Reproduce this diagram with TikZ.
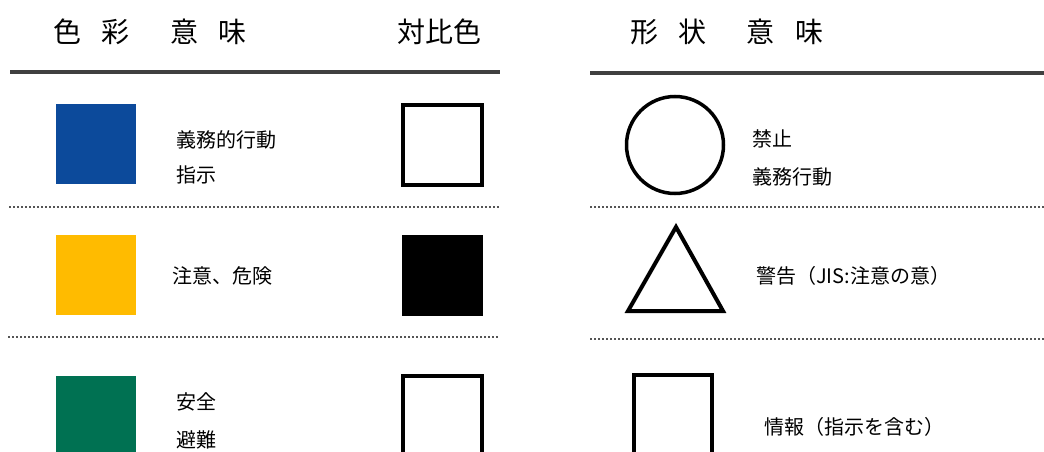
\documentclass[tikz,border=0pt]{standalone}
\usepackage{fontspec}
\setmainfont{Noto Sans CJK JP}
\definecolor{rulegray}{HTML}{404040}
\definecolor{dotgray}{HTML}{555555}
\definecolor{sblue}{HTML}{0C4A9B}
\definecolor{syellow}{HTML}{FFBB00}
\definecolor{sgreen}{HTML}{007152}
\begin{document}
\begin{tikzpicture}[x=1pt,y=-1pt,
  hdr/.style={anchor=west, inner sep=0pt, font=\fontsize{28}{32}\selectfont},
  lbl/.style={anchor=west, inner sep=0pt, font=\fontsize{20}{24}\selectfont},
  rulethick/.style={line width=3.5pt, draw=rulegray},
  dotrule/.style={line width=2pt, draw=dotgray, dash pattern=on 2pt off 2pt},
  swatch/.style={inner sep=0pt, minimum width=80pt, minimum height=80pt},
  outlinebox/.style={draw=black, line width=4pt, inner sep=0pt, fill=white}]
\clip (0,0) rectangle (1044,452);
\fill[white] (0,0) rectangle (1044,452);
% headers
\node[hdr] (hcolor) at (53,32) {色\hspace{20pt}彩\hspace{41pt}意\hspace{20pt}味};
\node[hdr] (hcontrast) at (397,32) {対比色};
\node[hdr] (hshape) at (630,32) {形\hspace{20pt}状\hspace{40pt}意\hspace{21pt}味};
% rules
\draw[rulethick] (10,72) -- (500,72);
\draw[rulethick] (590,73) -- (1044,73);
\draw[dotrule] (9,207) -- (500,207);
\draw[dotrule] (8,337) -- (498,337);
\draw[dotrule] (590,207) -- (1044,207);
\draw[dotrule] (590,339) -- (1044,339);
% row 1
\node[swatch, fill=sblue] (blue) at (96,144) {};
\node[lbl] (t1a) at (176,140) {義務的行動};
\node[lbl] (t1b) at (176,175) {指示};
\node[outlinebox, minimum width=79pt, minimum height=80pt] (c1) at (442.5,145) {};
% row 2
\node[swatch, fill=syellow] (yellow) at (96,275) {};
\node[lbl] (t2) at (172,276) {注意、危険};
\node[swatch, fill=black, minimum width=81pt, minimum height=81pt] (c2) at (442.5,275.5) {};
% row 3
\node[swatch, fill=sgreen, minimum height=96pt] (green) at (96,424) {};
\node[lbl] (t3a) at (176,402) {安全};
\node[lbl] (t3b) at (176,440) {避難};
\node[outlinebox, minimum width=79pt, minimum height=94pt] (c3) at (442.5,423) {};
% shapes
\node[circle, draw=black, line width=3.5pt, minimum size=97pt, inner sep=0pt] (circ) at (675,145) {};
\node[lbl] (s1a) at (752,139) {禁止};
\node[lbl] (s1b) at (752,177) {義務行動};
\draw[line width=4pt, line join=miter] (676,227) -- (723,311) -- (628,311) -- cycle;
\node[lbl] (s2) at (756,276) {警告（JIS:注意の意）};
\node[outlinebox, minimum width=78pt, minimum height=96pt] (rect) at (673,423) {};
\node[lbl] (s3) at (764,427) {情報（指示を含む）};
\end{tikzpicture}
\end{document}
